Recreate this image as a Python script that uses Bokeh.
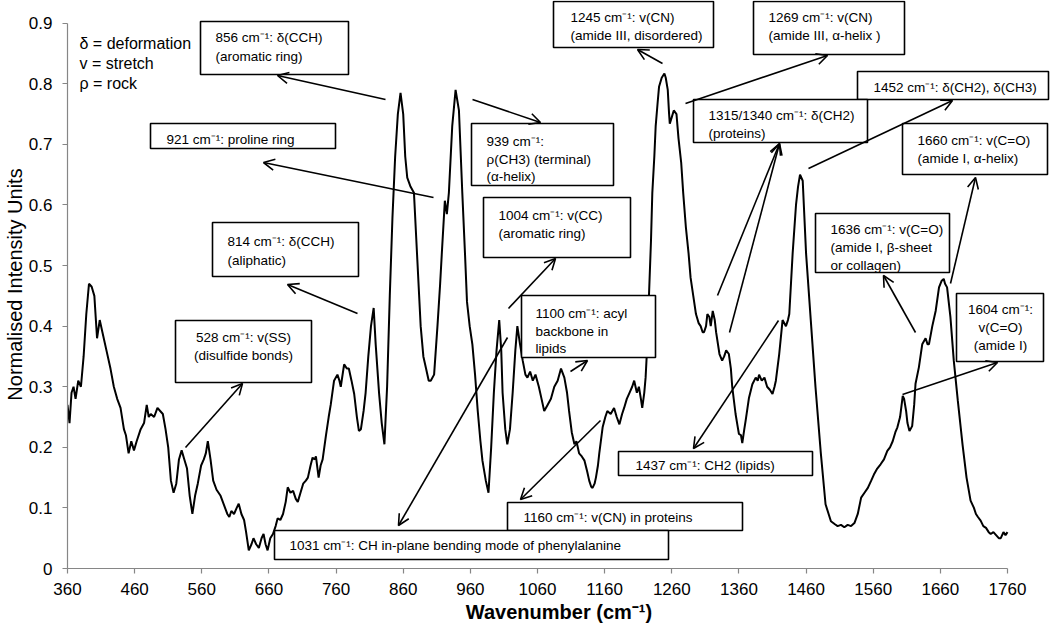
from bokeh.plotting import figure
from bokeh.models import Range1d, FixedTicker, Arrow, OpenHead, NumeralTickFormatter
from bokeh.embed import file_html
from bokeh.resources import INLINE
from bokeh.core.properties import value

# ---------------- data ----------------
wavenumber = [360, 363, 366, 369, 372, 376, 380, 384, 388, 392, 396, 400, 404, 408, 412, 418, 424, 429, 434, 439,
              444, 447, 451, 455, 459, 463, 469, 474, 478, 481, 484, 489, 494, 498, 502, 506, 510, 514, 518, 522,
              526, 530, 534, 538, 542, 546, 550, 554, 559, 563, 566, 569, 573, 577, 582, 588, 593, 598, 601, 604,
              608, 612, 615, 619, 623, 626, 630, 634, 637, 641, 645, 649, 652, 655, 658, 662, 666, 670, 673, 677,
              681, 685, 688, 692, 696, 700, 703, 707, 711, 715, 718, 722, 725, 728, 730, 734, 737, 740, 745, 749,
              752, 757, 762, 765, 767, 772, 776, 779, 783, 787, 791, 794, 797, 801, 804, 808, 812, 816, 819, 824,
              828, 832, 836, 840, 844, 848, 852, 856, 860, 863, 866, 871, 876, 881, 886, 890, 894, 898, 901, 906,
              911, 915, 918, 922, 925, 928, 933, 938, 943, 948, 952, 955, 959, 963, 967, 971, 975, 978, 983, 987,
              991, 995, 999, 1003, 1006, 1008, 1012, 1015, 1019, 1023, 1027, 1030, 1034, 1038, 1042, 1045, 1049,
              1053, 1057, 1062, 1066, 1070, 1075, 1080, 1085, 1090, 1095, 1100, 1104, 1107, 1111, 1115, 1118, 1122,
              1126, 1130, 1134, 1137, 1140, 1142, 1145, 1147, 1150, 1152, 1157, 1161, 1164, 1169, 1174, 1178, 1182,
              1186, 1189, 1193, 1197, 1201, 1204, 1208, 1211, 1214, 1216, 1219, 1221, 1224, 1226, 1229, 1231, 1234,
              1236, 1239, 1241, 1245, 1249, 1251, 1254, 1256, 1257, 1260, 1263, 1267, 1270, 1274, 1277, 1281, 1285,
              1288, 1292, 1296, 1300, 1303, 1306, 1308, 1311, 1313, 1316, 1318, 1321, 1324, 1326, 1331, 1335, 1338,
              1341, 1345, 1348, 1350, 1355, 1358, 1360, 1363, 1365, 1368, 1370, 1375, 1380, 1385, 1388, 1390, 1394,
              1398, 1402, 1406, 1410, 1413, 1415, 1420, 1425, 1430, 1433, 1435, 1440, 1445, 1448, 1451, 1455, 1460,
              1467, 1474, 1482, 1489, 1497, 1503, 1507, 1512, 1517, 1522, 1527, 1532, 1537, 1542, 1547, 1552, 1557,
              1561, 1566, 1571, 1576, 1581, 1585, 1589, 1593, 1596, 1600, 1604, 1606, 1609, 1611, 1614, 1618, 1621,
              1623, 1628, 1633, 1638, 1641, 1643, 1648, 1653, 1658, 1662, 1665, 1667, 1670, 1675, 1680, 1686, 1693,
              1699, 1705, 1710, 1713, 1716, 1720, 1724, 1728, 1732, 1735, 1739, 1743, 1747, 1750, 1754, 1757, 1760]
intensity = [0.27, 0.24, 0.29, 0.30, 0.28, 0.31, 0.30, 0.35, 0.42, 0.47, 0.465, 0.45, 0.38, 0.41, 0.39, 0.36, 0.33, 0.30, 0.28, 0.265,
             0.23, 0.22, 0.19, 0.21, 0.195, 0.21, 0.23, 0.24, 0.27, 0.25, 0.255, 0.25, 0.265, 0.26, 0.255, 0.23, 0.20, 0.145, 0.125, 0.14,
             0.18, 0.195, 0.18, 0.165, 0.12, 0.09, 0.12, 0.14, 0.17, 0.18, 0.19, 0.21, 0.18, 0.145, 0.13, 0.12, 0.105, 0.09, 0.085, 0.095,
             0.09, 0.10, 0.107, 0.09, 0.08, 0.06, 0.03, 0.04, 0.05, 0.04, 0.034, 0.05, 0.057, 0.04, 0.03, 0.05, 0.057, 0.07, 0.083, 0.08,
             0.09, 0.11, 0.134, 0.125, 0.128, 0.115, 0.11, 0.125, 0.14, 0.145, 0.15, 0.17, 0.183, 0.18, 0.185, 0.15, 0.17, 0.18, 0.22, 0.25,
             0.27, 0.31, 0.32, 0.31, 0.30, 0.337, 0.33, 0.33, 0.31, 0.288, 0.25, 0.227, 0.23, 0.26, 0.29, 0.35, 0.40, 0.43, 0.37, 0.29,
             0.24, 0.205, 0.30, 0.45, 0.58, 0.68, 0.75, 0.785, 0.75, 0.68, 0.645, 0.63, 0.62, 0.51, 0.40, 0.35, 0.33, 0.31, 0.31, 0.32,
             0.40, 0.47, 0.53, 0.607, 0.585, 0.62, 0.73, 0.79, 0.756, 0.62, 0.52, 0.44, 0.40, 0.37, 0.32, 0.26, 0.21, 0.178, 0.145, 0.125,
             0.20, 0.29, 0.36, 0.41, 0.36, 0.29, 0.23, 0.205, 0.23, 0.29, 0.36, 0.40, 0.37, 0.343, 0.32, 0.315, 0.325,
             0.31, 0.32, 0.30, 0.28, 0.26, 0.27, 0.28, 0.30, 0.31, 0.33, 0.315, 0.29, 0.26, 0.225, 0.205, 0.21, 0.19,
             0.185, 0.178, 0.16, 0.145, 0.135, 0.133, 0.14, 0.15, 0.17, 0.19, 0.233, 0.25, 0.26, 0.255, 0.265, 0.25, 0.238,
             0.255, 0.265, 0.28, 0.29, 0.30, 0.31, 0.29, 0.30, 0.28, 0.265, 0.29, 0.315, 0.38, 0.45, 0.54, 0.62, 0.68,
             0.73, 0.77, 0.795, 0.81, 0.817, 0.81, 0.79, 0.75, 0.734, 0.745, 0.756, 0.75, 0.71, 0.67, 0.62, 0.563, 0.52,
             0.48, 0.45, 0.42, 0.405, 0.40, 0.39, 0.39, 0.40, 0.42, 0.415, 0.40, 0.425, 0.41, 0.39, 0.354, 0.343, 0.35,
             0.36, 0.354, 0.33, 0.30, 0.255, 0.235, 0.222, 0.22, 0.207, 0.23, 0.244, 0.282, 0.304, 0.315, 0.31, 0.32, 0.31,
             0.315, 0.30, 0.295, 0.288, 0.30, 0.31, 0.354, 0.41, 0.40, 0.41, 0.42, 0.52, 0.60, 0.63, 0.65, 0.64, 0.52,
             0.41, 0.30, 0.19, 0.106, 0.078, 0.073, 0.07, 0.072, 0.068, 0.072, 0.07, 0.075, 0.09, 0.117, 0.125, 0.133, 0.145,
             0.155, 0.165, 0.172, 0.18, 0.194, 0.20, 0.21, 0.225, 0.233, 0.25, 0.285, 0.28, 0.26, 0.24, 0.227, 0.235, 0.27,
             0.305, 0.332, 0.37, 0.38, 0.37, 0.37, 0.40, 0.425, 0.464, 0.475, 0.478, 0.47, 0.464, 0.415, 0.343, 0.277, 0.205,
             0.15, 0.112, 0.10, 0.09, 0.085, 0.079, 0.07, 0.067, 0.06, 0.057, 0.06, 0.055, 0.05, 0.05, 0.06, 0.055, 0.06]

x_ticks = [360, 460, 560, 660, 760, 860, 960, 1060, 1160, 1260, 1360, 1460, 1560, 1660, 1760]
y_ticks = [0, 0.1, 0.2, 0.3, 0.4, 0.5, 0.6, 0.7, 0.8, 0.9]
y_tick_labels = ["0", "0.1", "0.2", "0.3", "0.4", "0.5", "0.6", "0.7", "0.8", "0.9"]

key_lines = ["δ = deformation", "v = stretch", "ρ = rock"]

# ---------------- layout helpers (canvas pixel -> data units) ----------------
PX_360, PX_1760 = 67.0, 1007.0
PY_0, PY_09 = 568.0, 22.7
W, H = 1050, 628


def dx(px):
    return 360 + (px - PX_360) * (1760 - 360) / (PX_1760 - PX_360)


def dy(py):
    return (PY_0 - py) * 0.9 / (PY_0 - PY_09)


FONT = value("Liberation Sans")

p = figure(width=W, height=H, output_backend="svg", toolbar_location=None, title=None,
           x_range=Range1d(360, dx(W)), y_range=Range1d(0, dy(0)),
           min_border_left=int(PX_360), min_border_right=0, min_border_top=0,
           min_border_bottom=int(H - PY_0))
p.outline_line_color = None
p.grid.grid_line_color = None
p.background_fill_color = "white"
p.border_fill_color = "white"

for ax in (p.xaxis[0], p.yaxis[0]):
    ax.axis_line_color = "#868686"
    ax.axis_line_width = 1.2
    ax.major_tick_line_color = "#868686"
    ax.major_tick_line_width = 1.2
    ax.major_tick_out = 5
    ax.major_tick_in = 0
    ax.minor_tick_line_color = None
    ax.major_label_text_font = "Liberation Sans"
    ax.major_label_text_font_size = "17px"
    ax.major_label_text_color = "black"
    ax.axis_label_text_font = "Liberation Sans"
    ax.axis_label_text_color = "black"

p.xaxis.bounds = (360, 1760)
p.yaxis.bounds = (0, 0.9)
p.xaxis.ticker = FixedTicker(ticks=x_ticks)
p.yaxis.ticker = FixedTicker(ticks=y_ticks)
p.yaxis.formatter = NumeralTickFormatter(format="0.[0]")
p.yaxis.major_label_overrides = dict(zip(y_ticks, y_tick_labels))
p.xaxis.major_label_standoff = 9
p.yaxis.major_label_standoff = 10

p.xaxis.axis_label = "Wavenumber (cm⁻¹)"
p.xaxis.axis_label_text_font_style = "bold"
p.xaxis.axis_label_text_font_size = "20px"
p.xaxis.axis_label_standoff = 3
p.yaxis.axis_label = "Normalised Intensity Units"
p.yaxis.axis_label_text_font_style = "normal"
p.yaxis.axis_label_text_font_size = "20px"
p.yaxis.axis_label_standoff = 0

# spectrum
p.line(wavenumber, intensity, line_color="black", line_width=2)

# ---------------- annotation boxes (canvas pixels: left, right, top, bottom) ----------------
boxes = [
    (200, 348, 21, 74), (150, 335, 123, 148), (212, 358, 222, 276), (175, 311, 320, 382),
    (507, 742, 502, 530), (274, 668, 530, 559), (483, 630, 197, 257), (471, 613, 123, 185),
    (521, 655, 295, 357), (553, 713, 1, 47), (753, 904, 1, 54), (857, 1048, 71, 99),
    (693, 867, 99, 142), (902, 1047, 123, 174), (815, 949, 213, 272), (956, 1043, 293, 361),
    (618, 812, 451, 475),
]
for (l, r, t, b) in boxes:
    p.quad(left=dx(l), right=dx(r), top=dy(t), bottom=dy(b),
           fill_color="white", line_color="black", line_width=1.6)

# left-aligned box texts (canvas px x, canvas px y-centre, text)
left_texts = [
    (215, 37, "856 cm⁻¹: δ(CCH)"), (215, 56, "(aromatic ring)"),
    (166, 139, "921 cm⁻¹: proline ring"),
    (227, 241, "814 cm⁻¹: δ(CCH)"), (227, 260, "(aliphatic)"),
    (523, 517, "1160 cm⁻¹: v(CN) in proteins"),
    (289, 545, "1031 cm⁻¹: CH in-plane bending mode of phenylalanine"),
    (498, 215, "1004 cm⁻¹: v(CC)"), (498, 233, "(aromatic ring)"),
    (486, 141, "939 cm⁻¹:"), (486, 159, "ρ(CH3) (terminal)"), (486, 176, "(α-helix)"),
    (535, 313, "1100 cm⁻¹: acyl"), (535, 331, "backbone in"), (535, 348, "lipids"),
    (570, 17, "1245 cm⁻¹: v(CN)"), (570, 35, "(amide III,  disordered)"),
    (768, 17, "1269 cm⁻¹: v(CN)"), (768, 35, "(amide III,  α-helix )"),
    (873, 87, "1452 cm⁻¹: δ(CH2), δ(CH3)"),
    (708, 115, "1315/1340 cm⁻¹: δ(CH2)"), (708, 133, "(proteins)"),
    (917, 140, "1660 cm⁻¹: v(C=O)"), (917, 158, "(amide I,  α-helix)"),
    (830, 229, "1636 cm⁻¹: v(C=O)"), (830, 247, "(amide I,  β-sheet"), (830, 265, "or collagen)"),
    (635, 465, "1437 cm⁻¹: CH2 (lipids)"),
]
p.text(x=[dx(a) for a, _, _ in left_texts], y=[dy(b) for _, b, _ in left_texts],
       text=[c for _, _, c in left_texts], text_font=FONT, text_font_size="13.5px",
       text_align="left", text_baseline="middle", text_color="black")

center_texts = [
    (243, 337, "528 cm⁻¹: v(SS)"), (243, 355, "(disulfide bonds)"),
    (1000, 309, "1604 cm⁻¹:"), (1000, 327, "v(C=O)"), (1000, 345, "(amide I)"),
]
p.text(x=[dx(a) for a, _, _ in center_texts], y=[dy(b) for _, b, _ in center_texts],
       text=[c for _, _, c in center_texts], text_font=FONT, text_font_size="13.5px",
       text_align="center", text_baseline="middle", text_color="black")

# symbol key
key_y = [43, 63, 83]
p.text(x=[dx(79)] * 3, y=[dy(v) for v in key_y], text=key_lines, text_font=FONT,
       text_font_size="16px", text_align="left", text_baseline="middle", text_color="black")

# arrows (canvas px: tail x, tail y, head x, head y)
arrows = [
    (385, 99, 277, 75), (433, 197, 263, 162), (357, 313, 287, 284), (185, 447, 242, 383),
    (507, 337, 398, 525), (600, 420, 520, 499), (508, 308, 555, 258), (472, 99, 540, 122),
    (570, 371, 587, 360), (662, 63, 637, 49), (685, 103, 827, 55), (717, 295, 779, 143),
    (729, 332, 779, 143), (808, 168, 952, 100), (950, 283, 975, 177), (915, 332, 883, 275),
    (902, 394, 997, 362), (778, 320, 693, 448),
]
for (x0, y0, x1, y1) in arrows:
    p.add_layout(Arrow(end=OpenHead(size=11, line_width=1.6, line_color="black"),
                       x_start=dx(x0), y_start=dy(y0), x_end=dx(x1), y_end=dy(y1),
                       line_color="black", line_width=1.6))

open("out.html", "w").write(file_html(p, INLINE))
